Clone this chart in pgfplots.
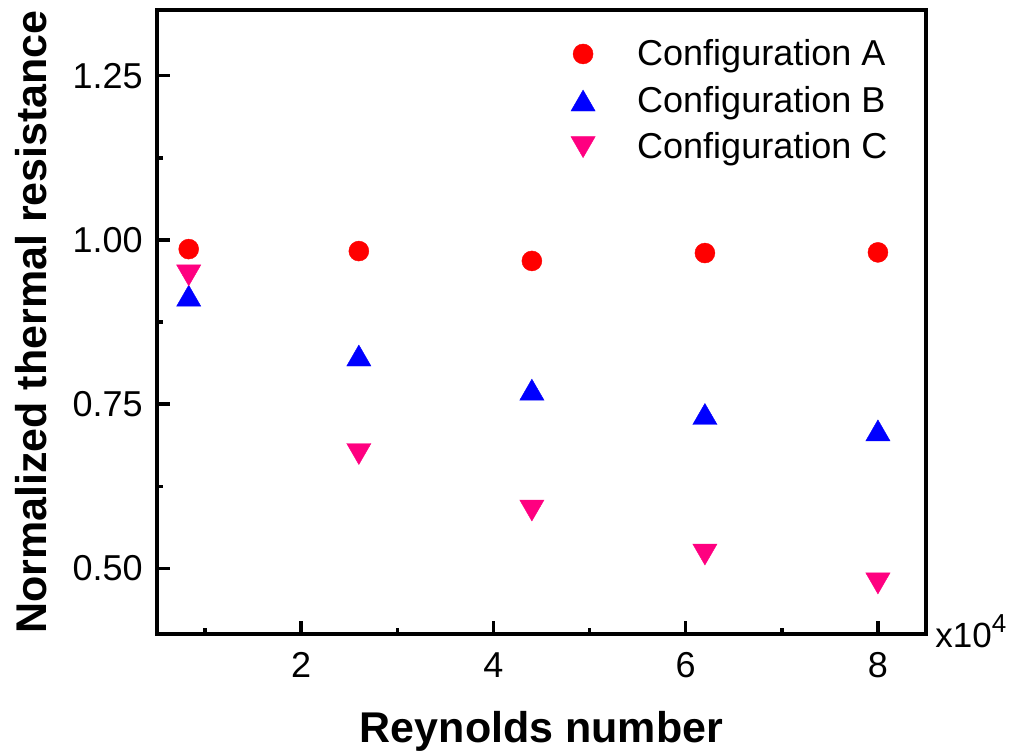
\documentclass[border=0pt]{standalone}
\usepackage{pgfplots}
\pgfplotsset{compat=1.18}
\usepackage{fontspec}
\setmainfont{Liberation Sans}
\definecolor{cA}{RGB}{255,0,0}
\definecolor{cB}{RGB}{0,0,255}
\definecolor{cC}{RGB}{255,0,128}
\begin{document}
\begin{tikzpicture}
\path[use as bounding box] (-78.5pt,-59pt) rectangle (428pt,317pt);
\begin{axis}[
  at={(0pt,0pt)}, anchor=south west,
  scale only axis, width=384.5pt, height=312pt,
  xmin=0.5, xmax=8.5, ymin=0.4, ymax=1.35,
  xtick={2,4,6,8}, minor xtick={1,3,5,7},
  ytick={0.5,0.75,1.0,1.25}, minor ytick={0.625,0.875,1.125},
  xtick pos=bottom, ytick pos=left,
  tick align=inside, major tick length=6.5pt, minor tick length=3pt,
  major tick style={line width=1.7pt, black},
  minor tick style={line width=1.7pt, black},
  axis line style={line width=2.1pt},
  /pgf/number format/assume math mode=true,
  yticklabel style={/pgf/number format/fixed, /pgf/number format/fixed zerofill, /pgf/number format/precision=2,
    anchor=east, inner sep=0pt, xshift=-7pt, font=\fontsize{18}{20}\selectfont},
  xticklabel style={anchor=north, inner sep=0pt, yshift=-9pt, font=\fontsize{18}{20}\selectfont},
  xlabel={Reynolds number},
  ylabel={Normalized thermal resistance},
  xlabel style={at={(axis description cs:0.5,0)}, anchor=base, inner sep=0pt, yshift=-54pt,
    font=\bfseries\fontsize{21.5}{24}\selectfont},
  ylabel style={at={([xshift=-55pt]axis description cs:0,0.5)}, anchor=south, inner sep=0pt,
    font=\bfseries\fontsize{21.5}{24}\selectfont},
  legend style={draw=none, fill=none, at={(axis description cs:0.53,1)}, anchor=north west,
    yshift=-10.5pt, font=\fontsize{18}{20}\selectfont, row sep=4.75pt, column sep=19pt,
    cells={anchor=west}},
  legend cell align=left,
]
\addplot[only marks, mark=*, mark size=5pt, mark options={fill=cA, draw=cA, line width=0.2pt}]
  coordinates {(0.83,0.986) (2.6,0.983) (4.4,0.968) (6.2,0.980) (8.0,0.981)};
\addlegendentry{Configuration A}
\addplot[only marks, mark=triangle*, mark size=7pt, mark options={yshift=-1.75pt, fill=cB, draw=cB, line width=0.2pt}]
  coordinates {(0.83,0.915) (2.6,0.824) (4.4,0.772) (6.2,0.735) (8.0,0.710)};
\addlegendentry{Configuration B}
\addplot[only marks, mark=triangle*, mark size=7pt, mark options={yshift=1.75pt, rotate=180, fill=cC, draw=cC, line width=0.2pt}]
  coordinates {(0.83,0.946) (2.6,0.674) (4.4,0.588) (6.2,0.521) (8.0,0.477)};
\addlegendentry{Configuration C}
\end{axis}
\node[anchor=base west, inner sep=0pt, font=\fontsize{17.5}{20}\selectfont] at ([xshift=4.5pt, yshift=-6.5pt]current axis.south east) {x10\raisebox{7.5pt}{\fontsize{13}{15}\selectfont 4}};
\end{tikzpicture}
\end{document}
